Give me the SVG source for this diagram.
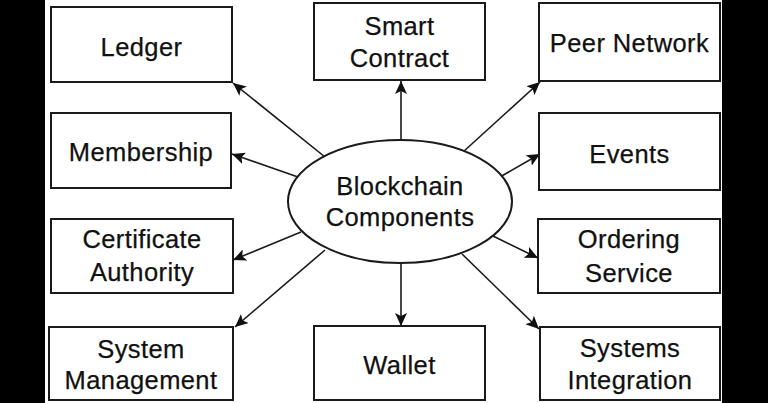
<svg xmlns="http://www.w3.org/2000/svg" width="768" height="403" viewBox="0 0 768 403">
<defs>
<marker id="ah" markerUnits="userSpaceOnUse" markerWidth="14" markerHeight="12" refX="13" refY="6" orient="auto">
<path d="M0,0 L13,6 L0,12 L3,6 z" fill="#111"/>
</marker>
</defs>
<style>
.box{fill:#fff;stroke:#1a1a1a;stroke-width:2}
.lbl{font-family:"Liberation Sans",Arial,sans-serif;font-size:25.5px;letter-spacing:0.4px;fill:#111;stroke:#111;stroke-width:0.25;text-anchor:middle}
.con{stroke:#1a1a1a;stroke-width:1.6;fill:none;marker-end:url(#ah)}
</style>
<rect x="0" y="0" width="768" height="403" fill="#fff"/>
<rect x="0" y="0" width="45" height="403" fill="#000"/>
<rect x="722" y="0" width="46" height="403" fill="#000"/>
<g id="connectors">
<line class="con" x1="325" y1="157" x2="233" y2="83"/>
<line class="con" x1="298" y1="177" x2="232" y2="154"/>
<line class="con" x1="301" y1="232" x2="233" y2="260"/>
<line class="con" x1="325" y1="250" x2="235" y2="327"/>
<line class="con" x1="401" y1="140" x2="401" y2="81"/>
<line class="con" x1="401" y1="263" x2="401" y2="326"/>
<line class="con" x1="463" y1="152" x2="540" y2="82"/>
<line class="con" x1="500" y1="177" x2="540" y2="154"/>
<line class="con" x1="493" y1="236" x2="538" y2="258"/>
<line class="con" x1="462" y1="254" x2="539" y2="329"/>
</g>
<g id="center">
<ellipse cx="400" cy="201.5" rx="112" ry="61.5" fill="#fff" stroke="#1a1a1a" stroke-width="2"/>
<text class="lbl" x="400" y="195">Blockchain</text>
<text class="lbl" x="400" y="226">Components</text>
</g>
<g id="ledger"><rect class="box" x="51" y="7" width="181" height="75"/><text class="lbl" x="141.5" y="56">Ledger</text></g>
<g id="membership"><rect class="box" x="51" y="113" width="180" height="75"/><text class="lbl" x="141" y="161">Membership</text></g>
<g id="certificate-authority"><rect class="box" x="51" y="219" width="182" height="74"/><text class="lbl" x="142" y="248">Certificate</text><text class="lbl" x="142" y="281">Authority</text></g>
<g id="system-management"><rect class="box" x="49" y="327" width="184" height="73"/><text class="lbl" x="141" y="358">System</text><text class="lbl" x="141" y="389">Management</text></g>
<g id="smart-contract"><rect class="box" x="314" y="3" width="171" height="77"/><text class="lbl" x="399.5" y="35">Smart</text><text class="lbl" x="399.5" y="67">Contract</text></g>
<g id="wallet"><rect class="box" x="314" y="326" width="171" height="74"/><text class="lbl" x="399.5" y="374">Wallet</text></g>
<g id="peer-network"><rect class="box" x="539" y="3" width="181" height="78"/><text class="lbl" x="629.5" y="52">Peer Network</text></g>
<g id="events"><rect class="box" x="539" y="113" width="181" height="77"/><text class="lbl" x="629.5" y="163">Events</text></g>
<g id="ordering-service"><rect class="box" x="538" y="219" width="182" height="74"/><text class="lbl" x="629" y="248">Ordering</text><text class="lbl" x="629" y="282">Service</text></g>
<g id="systems-integration"><rect class="box" x="540" y="327" width="180" height="73"/><text class="lbl" x="630" y="357">Systems</text><text class="lbl" x="630" y="389">Integration</text></g>
</svg>
